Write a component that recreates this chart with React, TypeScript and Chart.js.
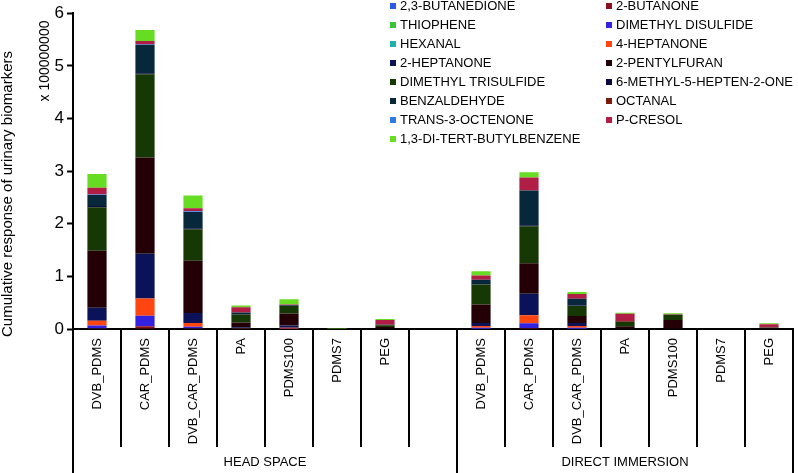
import React, { useEffect, useRef } from "react";
import { Chart, registerables } from "chart.js";

Chart.register(...registerables);

// ---------- data ----------
const categories = [
  "DVB_PDMS", "CAR_PDMS", "DVB_CAR_PDMS", "PA", "PDMS100", "PDMS7", "PEG", "",
  "DVB_PDMS", "CAR_PDMS", "DVB_CAR_PDMS", "PA", "PDMS100", "PDMS7", "PEG",
];
const groupLabels = ["HEAD SPACE", "DIRECT IMMERSION"];
const groupSizes = [8, 7];

const yTicks = [0, 1, 2, 3, 4, 5, 6];
const yTitle = "Cumulative response of urinary biomarkers";
const yMultiplier = "x 100000000";

const seriesNames = [
  "2,3-BUTANEDIONE", "2-BUTANONE", "THIOPHENE", "DIMETHYL DISULFIDE",
  "HEXANAL", "4-HEPTANONE", "2-HEPTANONE", "2-PENTYLFURAN",
  "DIMETHYL TRISULFIDE", "6-METHYL-5-HEPTEN-2-ONE", "BENZALDEHYDE", "OCTANAL",
  "TRANS-3-OCTENONE", "P-CRESOL", "1,3-DI-TERT-BUTYLBENZENE",
];

// values in units of 1e8
const butanedione = [0.01, 0.01, 0.01, 0, 0, 0, 0, 0, 0.005, 0.01, 0.005, 0, 0, 0, 0];
const butanone = [0.005, 0.04, 0.005, 0, 0, 0, 0, 0, 0, 0.01, 0, 0, 0, 0, 0];
const thiophene = [0, 0, 0, 0, 0, 0, 0, 0, 0, 0, 0, 0, 0, 0, 0];
const dimethylDisulfide = [0.05, 0.2, 0.03, 0.01, 0.005, 0, 0, 0, 0.02, 0.09, 0.02, 0, 0, 0, 0];
const hexanal = [0, 0, 0, 0, 0, 0, 0, 0, 0, 0, 0, 0, 0, 0, 0];
const heptanone4 = [0.09, 0.33, 0.07, 0.005, 0.02, 0, 0, 0, 0.03, 0.15, 0.03, 0, 0, 0, 0];
const heptanone2 = [0.25, 0.85, 0.19, 0.02, 0.04, 0, 0.01, 0, 0.06, 0.41, 0.06, 0, 0.01, 0, 0];
const pentylfuran = [1.08, 1.83, 0.99, 0.09, 0.23, 0, 0.03, 0, 0.35, 0.58, 0.13, 0.05, 0.16, 0, 0.02];
const dimethylTrisulfide = [0.83, 1.58, 0.6, 0.15, 0.14, 0.005, 0.03, 0, 0.38, 0.7, 0.19, 0.09, 0.1, 0, 0.01];
const methylheptenone = [0.02, 0.02, 0.02, 0.01, 0.01, 0, 0, 0, 0.01, 0.02, 0.01, 0, 0, 0, 0];
const benzaldehyde = [0.21, 0.54, 0.31, 0.03, 0.01, 0, 0.01, 0, 0.08, 0.66, 0.13, 0, 0, 0, 0];
const octanal = [0, 0, 0, 0, 0, 0, 0, 0, 0, 0, 0, 0.01, 0, 0, 0];
const octenone = [0.01, 0.01, 0.01, 0, 0, 0, 0, 0, 0, 0, 0, 0, 0, 0, 0];
const pCresol = [0.13, 0.06, 0.06, 0.1, 0.01, 0, 0.09, 0, 0.08, 0.25, 0.09, 0.14, 0.01, 0, 0.06];
const ditertButylbenzene = [0.26, 0.21, 0.24, 0.03, 0.1, 0.01, 0.02, 0, 0.08, 0.1, 0.04, 0.02, 0.02, 0, 0.02];

const seriesValues = [
  butanedione, butanone, thiophene, dimethylDisulfide, hexanal, heptanone4,
  heptanone2, pentylfuran, dimethylTrisulfide, methylheptenone, benzaldehyde,
  octanal, octenone, pCresol, ditertButylbenzene,
];

const seriesColors = [
  "#2a5ae6", "#8b1020", "#3ac43a", "#3322e0", "#20b2aa", "#ff4510",
  "#0b1258", "#220005", "#163805", "#0a0a40", "#06283a", "#7a1a0a",
  "#2b7be8", "#b01e45", "#66dd22",
];

const FONT = "'Liberation Sans', Arial, sans-serif";

const decorPlugin = {
  id: "decor",
  afterDraw(chart: any) {
    const ctx = chart.ctx as CanvasRenderingContext2D;
    const xs = chart.scales.x;
    const area = chart.chartArea;
    const n = categories.length;
    const w = xs.getPixelForValue(1) - xs.getPixelForValue(0);
    const base = area.bottom;
    ctx.save();

    // separators
    const longIdx: number[] = [0];
    let acc = 0;
    groupSizes.forEach((s) => { acc += s; longIdx.push(acc); });
    ctx.strokeStyle = "#000";
    ctx.lineWidth = 2;
    for (let i = 0; i <= n; i++) {
      const bx = Math.round(xs.getPixelForValue(i) - w / 2);
      const isLong = longIdx.includes(i);
      ctx.beginPath();
      ctx.moveTo(bx, base);
      ctx.lineTo(bx, isLong ? 473 : 447);
      ctx.stroke();
    }

    // category labels
    ctx.fillStyle = "#000";
    ctx.font = `13px ${FONT}`;
    categories.forEach((c, i) => {
      if (!c) return;
      const cx = xs.getPixelForValue(i);
      ctx.save();
      ctx.translate(cx, base + 9);
      ctx.rotate(-Math.PI / 2);
      ctx.textAlign = "right";
      ctx.textBaseline = "middle";
      ctx.fillText(c, 0, 0);
      ctx.restore();
    });

    // group labels
    ctx.textAlign = "center";
    ctx.textBaseline = "middle";
    let start = 0;
    groupLabels.forEach((g, gi) => {
      const end = start + groupSizes[gi];
      const x0 = xs.getPixelForValue(start) - w / 2;
      const x1 = xs.getPixelForValue(end) - w / 2;
      ctx.fillText(g, (x0 + x1) / 2, 462);
      start = end;
    });

    // y title
    ctx.save();
    ctx.font = `15px ${FONT}`;
    ctx.translate(8, 194);
    ctx.rotate(-Math.PI / 2);
    ctx.textAlign = "center";
    ctx.textBaseline = "middle";
    ctx.fillText(yTitle, 0, 0);
    ctx.restore();

    ctx.save();
    ctx.font = `14px ${FONT}`;
    ctx.translate(45, 61);
    ctx.rotate(-Math.PI / 2);
    ctx.textAlign = "center";
    ctx.textBaseline = "middle";
    ctx.fillText(yMultiplier, 0, 0);
    ctx.restore();

    // legend (two columns)
    ctx.font = `13px ${FONT}`;
    ctx.textAlign = "left";
    ctx.textBaseline = "middle";
    seriesNames.forEach((name, i) => {
      const col = i % 2;
      const row = Math.floor(i / 2);
      const ty = 6 + row * 19;
      const mx = col ? 606 : 390;
      const tx = col ? 616 : 400;
      ctx.fillStyle = seriesColors[i];
      ctx.fillRect(mx, ty - 3, 6, 6);
      ctx.fillStyle = "#000";
      ctx.fillText(name, tx, ty + 0.5);
    });

    ctx.restore();
  },
};

export default function App() {
  const ref = useRef<HTMLCanvasElement | null>(null);

  useEffect(() => {
    if (!ref.current) return;
    const chart = new Chart(ref.current, {
      type: "bar",
      data: {
        labels: categories,
        datasets: seriesNames.map((name, i) => ({
          label: name,
          data: seriesValues[i],
          backgroundColor: seriesColors[i],
          borderWidth: 0,
          barPercentage: 0.4,
          categoryPercentage: 1,
        })),
      },
      options: {
        animation: false,
        responsive: true,
        maintainAspectRatio: false,
        devicePixelRatio: 1,
        layout: { padding: { top: 11, left: 0, right: 5, bottom: 0 } },
        plugins: {
          legend: { display: false },
          tooltip: { enabled: false },
        },
        scales: {
          x: {
            stacked: true,
            grid: { display: false },
            ticks: { display: false },
            border: { display: true, color: "#000", width: 2 },
            afterFit: (s: any) => { s.height = 144; },
          },
          y: {
            stacked: true,
            min: yTicks[0],
            max: yTicks[yTicks.length - 1],
            afterBuildTicks: (s: any) => { s.ticks = yTicks.map((v) => ({ value: v })); },
            ticks: {
              color: "#000",
              font: { family: FONT, size: 17 },
              padding: 3,
            },
            grid: {
              drawOnChartArea: false,
              drawTicks: true,
              tickLength: 6,
              tickWidth: 2,
              tickColor: "#000",
            },
            border: { display: true, color: "#000", width: 2 },
            afterFit: (s: any) => { s.width = 73; },
          },
        },
      },
      plugins: [decorPlugin],
    });
    return () => chart.destroy();
  }, []);

  return (
    <div style={{ position: "absolute", left: 0, top: 0, width: 798, height: 473, background: "#fff" }}>
      <canvas ref={ref} />
    </div>
  );
}
